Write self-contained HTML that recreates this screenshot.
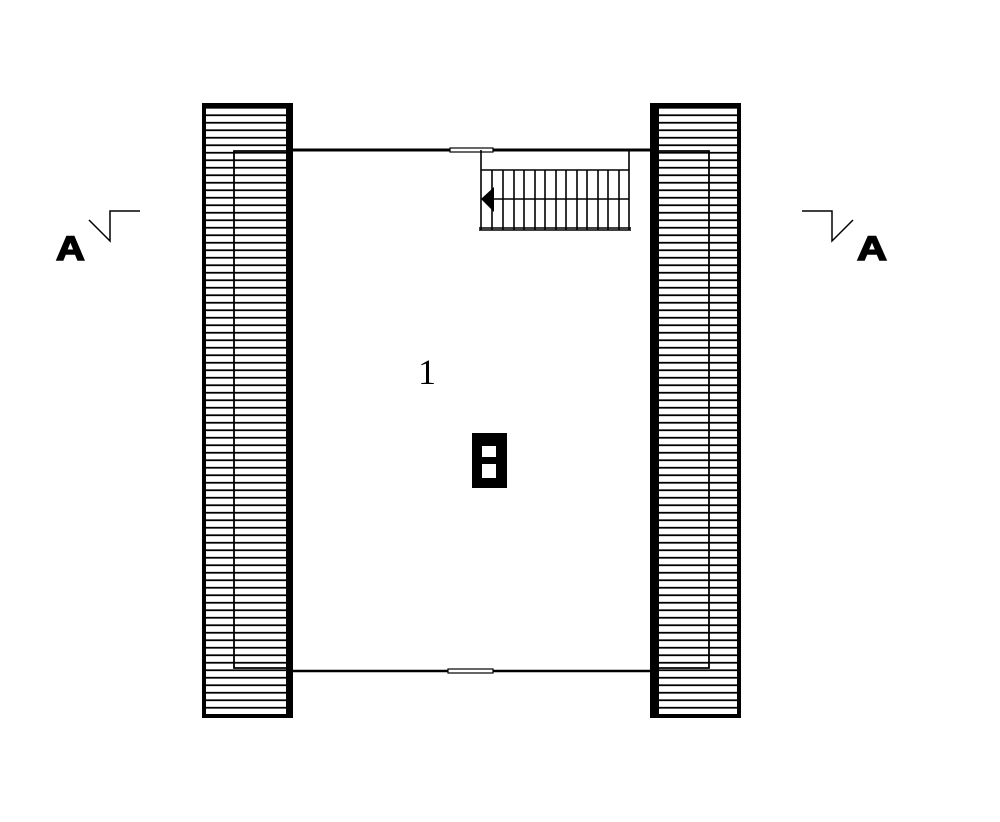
<!DOCTYPE html>
<html><head><style>body{margin:0;background:#fff}</style></head><body>
<svg width="1000" height="817" viewBox="0 0 1000 817" xmlns="http://www.w3.org/2000/svg">
<defs>
<pattern id="h" x="0" y="104" width="10" height="7.5" patternUnits="userSpaceOnUse">
<line x1="0" y1="3.75" x2="10" y2="3.75" stroke="#000" stroke-width="1.8"/>
</pattern>
</defs>
<!-- left block -->
<rect x="204" y="105" width="86" height="611" fill="url(#h)" stroke="#000" stroke-width="4"/>
<rect x="286" y="103" width="7" height="615" fill="#000"/>
<polyline points="292,151 234,151 234,668 292,668" fill="none" stroke="#000" stroke-width="1.8"/>
<!-- right block -->
<rect x="652" y="105" width="87" height="611" fill="url(#h)" stroke="#000" stroke-width="4"/>
<rect x="650" y="103" width="9" height="615" fill="#000"/>
<polyline points="650,151 709,151 709,668 650,668" fill="none" stroke="#000" stroke-width="1.8"/>
<!-- walls -->
<line x1="292" y1="150" x2="650" y2="150" stroke="#000" stroke-width="3"/>
<line x1="292" y1="671" x2="650" y2="671" stroke="#000" stroke-width="2.5"/>
<rect x="450" y="148" width="43" height="4" fill="#fff" stroke="#000" stroke-width="1.2"/>
<rect x="448" y="669" width="45" height="4" fill="#fff" stroke="#000" stroke-width="1.2"/>
<!-- stairs -->
<g stroke="#000" stroke-width="1.6" fill="none">
<line x1="481" y1="150" x2="481" y2="230"/>
<line x1="629" y1="150" x2="629" y2="230"/>
<line x1="481" y1="170" x2="629" y2="170"/>
<line x1="481" y1="199" x2="629" y2="199"/>
<line x1="479" y1="228" x2="631" y2="228" stroke-width="1.5"/>
<line x1="479" y1="230" x2="631" y2="230"/>
<line x1="492" y1="170" x2="492" y2="230"/><line x1="503" y1="170" x2="503" y2="230"/>
<line x1="514" y1="170" x2="514" y2="230"/><line x1="524" y1="170" x2="524" y2="230"/>
<line x1="535" y1="170" x2="535" y2="230"/><line x1="545" y1="170" x2="545" y2="230"/>
<line x1="556" y1="170" x2="556" y2="230"/><line x1="566" y1="170" x2="566" y2="230"/>
<line x1="577" y1="170" x2="577" y2="230"/><line x1="587" y1="170" x2="587" y2="230"/>
<line x1="598" y1="170" x2="598" y2="230"/><line x1="608" y1="170" x2="608" y2="230"/>
<line x1="619" y1="170" x2="619" y2="230"/>
</g>
<polygon points="481,199 494,187 494,212" fill="#000"/>
<!-- label -->
<text x="418" y="384" font-family="Liberation Serif,serif" font-size="36">1</text>
<!-- chimney -->
<rect x="472" y="433" width="35" height="55" fill="#000"/>
<rect x="482" y="446" width="14" height="11" fill="#fff"/>
<rect x="482" y="464" width="14" height="14" fill="#fff"/>
<!-- section marks -->
<polyline points="89,220 110,241 110,211 140,211" fill="none" stroke="#000" stroke-width="1.5"/>
<text x="56" y="260" font-family="Liberation Sans,sans-serif" font-weight="bold" font-size="34" stroke="#000" stroke-width="1.5" transform="translate(56,0) scale(0.9,1) translate(-56,0) translate(0,0)" textLength="32" lengthAdjust="spacingAndGlyphs">A</text>
<polyline points="802,211 832,211 832,241 853,220" fill="none" stroke="#000" stroke-width="1.5"/>
<text x="857" y="260" font-family="Liberation Sans,sans-serif" font-weight="bold" font-size="34" stroke="#000" stroke-width="1.5" textLength="30" lengthAdjust="spacingAndGlyphs">A</text>
</svg>
</body></html>
